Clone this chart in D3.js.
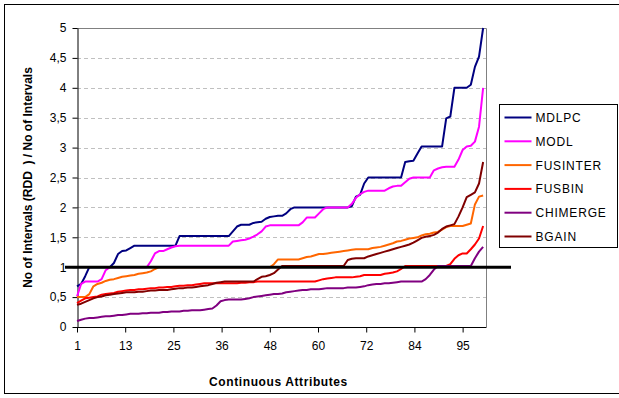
<!DOCTYPE html>
<html>
<head>
<meta charset="utf-8">
<script src="https://cdn.jsdelivr.net/npm/d3@7"></script>
<style>
  body { margin: 0; background: #fff; }
  svg { font-family: "Liberation Sans", Arial, sans-serif; }
</style>
</head>
<body>
<div id="chart-area"></div>
<script>
// series values, one per continuous attribute (1..100)
var mdlpc = [0.68,0.72,0.85,1.0,1.0,1.0,1.0,1.0,1.0,1.07,
  1.22,1.27,1.28,1.32,1.36,1.36,1.36,1.36,1.36,1.36,
  1.36,1.36,1.36,1.36,1.36,1.52,1.52,1.52,1.52,1.52,
  1.52,1.52,1.52,1.52,1.52,1.52,1.52,1.52,1.6,1.68,
  1.71,1.71,1.71,1.74,1.75,1.76,1.81,1.84,1.85,1.86,
  1.86,1.9,1.97,2.0,2.0,2.0,2.0,2.0,2.0,2.0,
  2.0,2.0,2.0,2.0,2.0,2.0,2.0,2.02,2.18,2.21,
  2.4,2.5,2.5,2.5,2.5,2.5,2.5,2.5,2.5,2.5,
  2.76,2.77,2.78,2.9,3.02,3.02,3.02,3.02,3.02,3.02,
  3.49,3.52,4.0,4.0,4.0,4.0,4.05,4.35,4.52,5.0];

var modl = [0.51,0.72,0.76,0.76,0.76,0.76,0.8,0.95,1.0,1.0,
  1.0,1.0,1.0,1.0,1.0,1.0,1.0,1.0,1.1,1.23,
  1.27,1.27,1.3,1.33,1.35,1.36,1.36,1.36,1.36,1.36,
  1.36,1.36,1.36,1.36,1.36,1.36,1.36,1.36,1.43,1.44,
  1.45,1.46,1.48,1.51,1.55,1.6,1.68,1.7,1.7,1.7,
  1.7,1.7,1.7,1.7,1.7,1.75,1.83,1.83,1.83,1.9,
  1.97,2.0,2.0,2.0,2.0,2.0,2.0,2.06,2.16,2.22,
  2.26,2.28,2.28,2.28,2.28,2.28,2.32,2.35,2.36,2.36,
  2.42,2.48,2.5,2.5,2.5,2.5,2.5,2.62,2.65,2.67,
  2.68,2.68,2.68,2.8,2.96,3.02,3.03,3.1,3.35,4.0];

var fusinter = [0.5,0.5,0.5,0.55,0.68,0.72,0.74,0.77,0.79,0.8,
  0.82,0.84,0.85,0.86,0.87,0.89,0.9,0.91,0.93,0.97,
  1.0,1.0,1.0,1.0,1.0,1.0,1.0,1.0,1.0,1.0,
  1.0,1.0,1.0,1.0,1.0,1.0,1.0,1.0,1.0,1.0,
  1.0,1.0,1.0,1.0,1.0,1.0,1.0,1.0,1.05,1.13,
  1.13,1.13,1.13,1.13,1.13,1.15,1.17,1.18,1.2,1.22,
  1.22,1.23,1.24,1.25,1.26,1.27,1.28,1.29,1.3,1.3,
  1.3,1.3,1.32,1.33,1.34,1.36,1.38,1.4,1.43,1.44,
  1.46,1.48,1.49,1.5,1.53,1.55,1.56,1.58,1.59,1.63,
  1.67,1.69,1.69,1.69,1.69,1.71,1.73,2.05,2.18,2.2];

var fusbin = [0.4,0.44,0.48,0.49,0.5,0.51,0.54,0.55,0.56,0.57,
  0.59,0.6,0.61,0.62,0.62,0.63,0.63,0.64,0.65,0.65,
  0.66,0.66,0.67,0.67,0.68,0.69,0.69,0.7,0.7,0.71,
  0.72,0.73,0.73,0.73,0.73,0.73,0.73,0.73,0.73,0.73,
  0.74,0.74,0.75,0.75,0.76,0.76,0.76,0.76,0.76,0.76,
  0.76,0.76,0.76,0.76,0.76,0.76,0.76,0.76,0.76,0.78,
  0.8,0.81,0.82,0.83,0.83,0.83,0.83,0.83,0.84,0.85,
  0.87,0.87,0.87,0.87,0.87,0.89,0.9,0.91,0.93,0.97,
  1.02,1.02,1.02,1.02,1.02,1.02,1.02,1.02,1.02,1.02,
  1.02,1.05,1.14,1.2,1.23,1.23,1.3,1.38,1.48,1.69];

var chimerge = [0.1,0.12,0.14,0.15,0.15,0.16,0.17,0.18,0.18,0.19,
  0.2,0.2,0.21,0.22,0.22,0.22,0.23,0.23,0.24,0.24,
  0.24,0.25,0.25,0.26,0.26,0.26,0.27,0.27,0.28,0.28,
  0.28,0.29,0.3,0.31,0.36,0.43,0.45,0.46,0.46,0.46,
  0.46,0.47,0.48,0.5,0.51,0.52,0.53,0.54,0.55,0.55,
  0.56,0.58,0.59,0.6,0.61,0.62,0.62,0.63,0.63,0.63,
  0.64,0.65,0.65,0.65,0.65,0.65,0.66,0.66,0.66,0.67,
  0.68,0.7,0.71,0.72,0.72,0.73,0.73,0.74,0.75,0.76,
  0.76,0.76,0.76,0.76,0.76,0.8,0.87,0.96,1.02,1.02,
  1.02,1.02,1.02,1.02,1.02,1.02,1.02,1.15,1.26,1.34];

var bgain = [0.37,0.39,0.42,0.45,0.48,0.5,0.51,0.53,0.54,0.55,
  0.56,0.57,0.58,0.58,0.58,0.59,0.59,0.6,0.61,0.61,
  0.62,0.62,0.62,0.63,0.64,0.65,0.65,0.66,0.66,0.67,
  0.68,0.69,0.7,0.72,0.74,0.75,0.76,0.76,0.76,0.76,
  0.76,0.76,0.76,0.76,0.8,0.84,0.85,0.87,0.9,0.96,
  1.02,1.02,1.02,1.02,1.02,1.02,1.02,1.02,1.02,1.02,
  1.02,1.02,1.02,1.02,1.02,1.02,1.12,1.14,1.15,1.15,
  1.15,1.18,1.2,1.22,1.24,1.26,1.28,1.3,1.32,1.34,
  1.36,1.38,1.41,1.45,1.49,1.51,1.52,1.54,1.58,1.64,
  1.68,1.7,1.72,1.85,2.0,2.17,2.21,2.25,2.4,2.76];

var seriesNames = ["MDLPC", "MODL", "FUSINTER", "FUSBIN", "CHIMERGE", "BGAIN"];
var seriesValues = [mdlpc, modl, fusinter, fusbin, chimerge, bgain];
var seriesColors = ["#000080", "#ff00ff", "#ff6600", "#ff0000", "#800080", "#800000"];

var xTickLabels = ["1", "13", "25", "36", "48", "60", "72", "84", "95"];
var yTicks = [0, 0.5, 1, 1.5, 2, 2.5, 3, 3.5, 4, 4.5, 5];
var refLevel = 1;

const svgWidth = 619;
const svgHeight = 398;
const plot = {left: 77, right: 486, top: 28, bottom: 327};

var canvas = d3.select("#chart-area").append("svg")
               .attr("width", svgWidth)
               .attr("height", svgHeight);

// outer chart border
canvas.append("rect")
      .attr("x", 4.5).attr("y", 4.5)
      .attr("width", 640).attr("height", 389)
      .attr("fill", "none")
      .attr("stroke", "#000")
      .attr("stroke-width", 1);

var xScale = d3.scaleLinear()
               .domain([1, 100.7])
               .range([plot.left, plot.right]);

var yScale = d3.scaleLinear()
               .domain([0, 5])
               .range([plot.bottom, plot.top]);

// grid lines
canvas.append("g")
      .selectAll("line")
      .data(yTicks.filter(d => d > 0 && d < 5))
      .enter()
      .append("line")
      .attr("x1", plot.left)
      .attr("x2", plot.right)
      .attr("y1", d => Math.round(yScale(d)) + 0.5)
      .attr("y2", d => Math.round(yScale(d)) + 0.5)
      .attr("stroke", "#c0c0c0")
      .attr("stroke-dasharray", "4,3");

// plot border (top / right)
canvas.append("path")
      .attr("d", "M" + plot.left + "," + (plot.top + 0.5) + "H" + (plot.right + 0.5) + "V" + plot.bottom)
      .attr("fill", "none")
      .attr("stroke", "#808080");

// axes
var xTickPos = xTickLabels.map((d, i) => 1 + i * (95 - 1) / (xTickLabels.length - 1));

var xAxis = d3.axisBottom(xScale)
              .tickValues(xTickPos)
              .tickFormat((d, i) => xTickLabels[i])
              .tickSizeInner(5)
              .tickSizeOuter(0)
              .tickPadding(9);

var yAxis = d3.axisLeft(yScale)
              .tickValues(yTicks)
              .tickFormat(d => String(d).replace(".", ","))
              .tickSizeInner(5)
              .tickSizeOuter(0)
              .tickPadding(6);

var xAxisGroup = canvas.append("g")
                       .attr("transform", "translate(0," + (plot.bottom + 0.5) + ")")
                       .call(xAxis);

var yAxisGroup = canvas.append("g")
                       .attr("transform", "translate(" + (plot.left + 0.5) + ",0)")
                       .call(yAxis);

[xAxisGroup, yAxisGroup].forEach(g => {
  g.selectAll("path, line").attr("stroke", "#000");
  g.selectAll("text")
   .attr("fill", "#000")
   .style("font-family", "'Liberation Sans', Arial, sans-serif")
   .style("font-size", "12px");
});
xAxisGroup.select(".domain").attr("d", "M" + plot.left + ",0H" + (plot.right + 0.5));

// series lines
var line = d3.line()
             .x((d, i) => xScale(i + 1))
             .y(d => yScale(d));

seriesValues.forEach((values, k) => {
  canvas.append("path")
        .datum(values)
        .attr("d", line)
        .attr("fill", "none")
        .attr("stroke", seriesColors[k])
        .attr("stroke-width", 2)
        .attr("stroke-linejoin", "round");
});

// reference line at 1
canvas.append("line")
      .attr("x1", 65)
      .attr("x2", 511)
      .attr("y1", yScale(refLevel))
      .attr("y2", yScale(refLevel))
      .attr("stroke", "#000")
      .attr("stroke-width", 3);

// axis titles
canvas.append("text")
      .attr("x", (plot.left + plot.right) / 2 - 3)
      .attr("y", 386)
      .attr("text-anchor", "middle")
      .attr("font-size", 12)
      .attr("font-weight", "bold")
      .style("letter-spacing", "0.6px")
      .text("Continuous Attributes");

canvas.append("text")
      .attr("transform", "translate(32," + ((plot.top + plot.bottom) / 2) + ") rotate(-90)")
      .attr("text-anchor", "middle")
      .attr("font-size", 12)
      .attr("font-weight", "bold")
      .style("white-space", "pre")
      .text("No of Intervals (RDD  ) / No of Intervals");

// legend
var legend = canvas.append("g")
                   .attr("transform", "translate(499.5,104.5)");

legend.append("rect")
      .attr("width", 118)
      .attr("height", 143)
      .attr("fill", "#fff")
      .attr("stroke", "#000");

seriesNames.forEach((name, i) => {
  var legendRow = legend.append("g")
                        .attr("transform", "translate(0," + (13 + i * 23.8) + ")");

  legendRow.append("line")
           .attr("x1", 5)
           .attr("x2", 32)
           .attr("stroke", seriesColors[i])
           .attr("stroke-width", 2);

  legendRow.append("text")
           .attr("x", 36)
           .attr("y", 4.5)
           .attr("font-size", 12)
           .style("letter-spacing", "0.8px")
           .text(name);
});
</script>
</body>
</html>
